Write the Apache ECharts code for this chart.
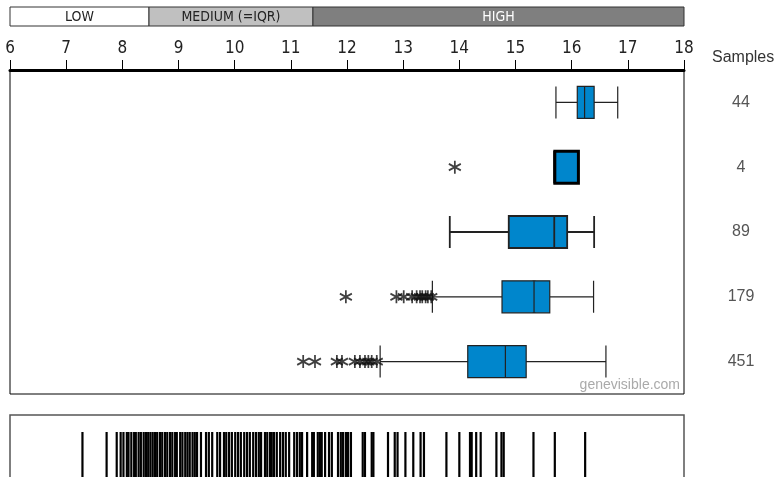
<!DOCTYPE html>
<html>
<head>
<meta charset="utf-8">
<script src="https://cdn.jsdelivr.net/npm/echarts@6/dist/echarts.min.js"></script>
<style>
html,body{margin:0;padding:0;background:#fff;}
#c{width:780px;height:477px;}
</style>
</head>
<body>
<div id="c"></div>
<script>
// ---- data ----
const categories = ['Group 1', 'Group 2', 'Group 3', 'Group 4', 'Group 5'];
const samples = ['44', '4', '89', '179', '451'];
// [min whisker, Q1, median, Q3, max whisker]
const boxStats = [
  [15.72, 16.10, 16.23, 16.40, 16.82],
  [15.70, 15.70, 15.70, 16.12, 16.12],
  [13.83, 14.88, 15.69, 15.92, 16.40],
  [13.52, 14.76, 15.33, 15.61, 16.39],
  [12.59, 14.15, 14.82, 15.19, 16.61]
];
const outliers = [
  [],
  [13.92],
  [],
  [11.98, 12.88, 13.01, 13.16, 13.24, 13.30, 13.34, 13.40, 13.44, 13.50],
  [11.22, 11.43, 11.82, 11.91, 12.14, 12.23, 12.32, 12.38, 12.44, 12.53]
];
const levelNames = ['LOW', 'MEDIUM (=IQR)', 'HIGH'];
const levelBreaks = [6, 8.475, 11.394, 18];
const xTicks = [6, 7, 8, 9, 10, 11, 12, 13, 14, 15, 16, 17, 18];
const rugValues = [
  7.29, 7.72, 7.90, 7.97, 8.02, 8.08, 8.11, 8.16, 8.21, 8.24, 8.29, 8.33, 8.38, 8.42, 8.46,
  8.50, 8.54, 8.58, 8.62, 8.67, 8.71, 8.76, 8.80, 8.85, 8.89, 8.94, 8.97, 9.03, 9.07, 9.12,
  9.16, 9.20, 9.25, 9.29, 9.33, 9.40, 9.49, 9.54, 9.60, 9.69, 9.74, 9.81, 9.85, 9.90, 9.95,
  10.01, 10.06, 10.11, 10.17, 10.22, 10.27, 10.33, 10.38, 10.43, 10.47, 10.54, 10.58, 10.63,
  10.66, 10.70, 10.75, 10.81, 10.86, 10.91, 10.97, 11.06, 11.11, 11.16, 11.20, 11.29, 11.38,
  11.41, 11.48, 11.52, 11.55, 11.61, 11.68, 11.73, 11.84, 11.89, 11.93, 11.98, 12.02, 12.07,
  12.28, 12.32, 12.44, 12.47, 12.73, 12.85, 12.90, 13.04, 13.18, 13.31, 13.37, 13.77, 14.00,
  14.19, 14.22, 14.30, 14.38, 14.66, 14.75, 14.79, 15.32, 15.70, 16.24
];

// ---- styles ----
const NARROW = '"Liberation Sans Narrow", "DejaVu Sans Condensed", Arial, sans-serif';
const SANS = '"Liberation Sans", Arial, sans-serif';
const levelFill = ['#ffffff', '#c0c0c0', '#7f7f7f'];
const levelText = ['#222', '#222', '#ffffff'];
const BLUE = '#0086cc';
const ASTERISK = 'path://M0,-6L0,6M-5.2,-3L5.2,3M-5.2,3L5.2,-3';

const chart = echarts.init(document.getElementById('c'), null, {renderer: 'canvas'});

const boxData = boxStats.map((s, i) => {
  const item = {value: s};
  if (i === 1) item.itemStyle = {borderWidth: 3, borderColor: '#000'};
  if (i === 2) item.itemStyle = {borderWidth: 1.8};
  return item;
});
const medianData = boxStats.map((s, i) => [s[2], i]);
const outlierData = [];
outliers.forEach((row, i) => row.forEach(v => outlierData.push([v, i])));
const levelData = levelNames.map((n, i) => [levelBreaks[i], levelBreaks[i + 1], i]);
const rugData = rugValues.map(v => [v, 0.5]);

const option = {
  animation: false,
  backgroundColor: '#fff',
  grid: [
    {left: 10, top: 70, width: 674, height: 324, show: true, borderColor: '#000', borderWidth: 1, backgroundColor: 'transparent'},
    {left: 10, top: 415, width: 674, height: 62, show: false},
    {left: 10, top: 7, width: 674, height: 19, show: false}
  ],
  xAxis: [
    {
      gridIndex: 0, type: 'value', position: 'top', min: xTicks[0], max: xTicks[xTicks.length - 1], interval: 1,
      axisLine: {show: true, lineStyle: {color: '#000', width: 3}},
      axisTick: {show: true, length: 10, lineStyle: {color: '#000', width: 1}},
      axisLabel: {margin: 13, fontSize: 17, fontFamily: NARROW, color: '#222'},
      splitLine: {show: false}
    },
    {gridIndex: 1, type: 'value', min: 6, max: 18, show: false},
    {gridIndex: 2, type: 'value', min: 6, max: 18, show: false}
  ],
  yAxis: [
    {gridIndex: 0, type: 'category', data: categories, inverse: true, show: false},
    {
      gridIndex: 0, type: 'category', data: samples, inverse: true, position: 'right',
      axisLine: {show: false}, axisTick: {show: false}, splitLine: {show: false},
      axisLabel: {margin: 57, align: 'center', fontSize: 16, fontFamily: SANS, color: '#555'}
    },
    {gridIndex: 1, type: 'value', min: 0, max: 1, show: false},
    {gridIndex: 2, type: 'value', min: 0, max: 1, show: false}
  ],
  series: [
    {
      type: 'custom', xAxisIndex: 2, yAxisIndex: 3, data: levelData,
      renderItem: function (params, api) {
        const a = api.coord([api.value(0), 0]);
        const b = api.coord([api.value(1), 0]);
        const cs = params.coordSys;
        const idx = api.value(2);
        return {
          type: 'group',
          children: [
            {type: 'rect', shape: {x: a[0], y: cs.y, width: b[0] - a[0], height: cs.height},
             style: {fill: levelFill[idx], stroke: '#333', lineWidth: 1}},
            {type: 'text', style: {text: levelNames[idx], x: (a[0] + b[0]) / 2, y: cs.y + cs.height / 2 + 1,
             align: 'center', verticalAlign: 'middle', fill: levelText[idx], font: '14px ' + NARROW}}
          ]
        };
      }
    },
    {
      type: 'boxplot', xAxisIndex: 0, yAxisIndex: 0, data: boxData,
      boxWidth: [32, 32],
      itemStyle: {color: BLUE, borderColor: '#222', borderWidth: 1.2},
      emphasis: {disabled: true}
    },
    {
      type: 'custom', xAxisIndex: 0, yAxisIndex: 0, data: medianData,
      renderItem: function (params, api) {
        const p = api.coord([api.value(0), api.value(1)]);
        const h = api.size([0, 1])[1] * 0.5;
        return {type: 'line', shape: {x1: p[0], y1: p[1] - h / 2, x2: p[0], y2: p[1] + h / 2},
                style: {stroke: '#000', lineWidth: 3}};
      }
    },
    {
      type: 'scatter', xAxisIndex: 0, yAxisIndex: 0, data: outlierData,
      symbol: ASTERISK, symbolSize: [12, 13],
      itemStyle: {color: 'rgba(0,0,0,0)', borderColor: '#111', borderWidth: 1.8},
      emphasis: {disabled: true}
    },
    {
      type: 'custom', xAxisIndex: 1, yAxisIndex: 2, data: rugData,
      renderItem: function (params, api) {
        const p = api.coord([api.value(0), 0]);
        const cs = params.coordSys;
        return {type: 'line', shape: {x1: p[0], y1: cs.y + 17, x2: p[0], y2: cs.y + cs.height + 5},
                style: {stroke: '#000', lineWidth: 2.2}};
      }
    }
  ],
  graphic: [
    {type: 'rect', shape: {x: 10, y: 415, width: 674, height: 100}, style: {fill: 'none', stroke: '#555', lineWidth: 1.5}, silent: true},
    {type: 'text', left: 712, top: 50, style: {text: 'Samples', font: '16px ' + SANS, fill: '#333'}},
    {type: 'text', right: 100, top: 378, style: {text: 'genevisible.com', font: '14px ' + SANS, fill: '#aaa'}}
  ]
};
chart.setOption(option);
</script>
</body>
</html>
